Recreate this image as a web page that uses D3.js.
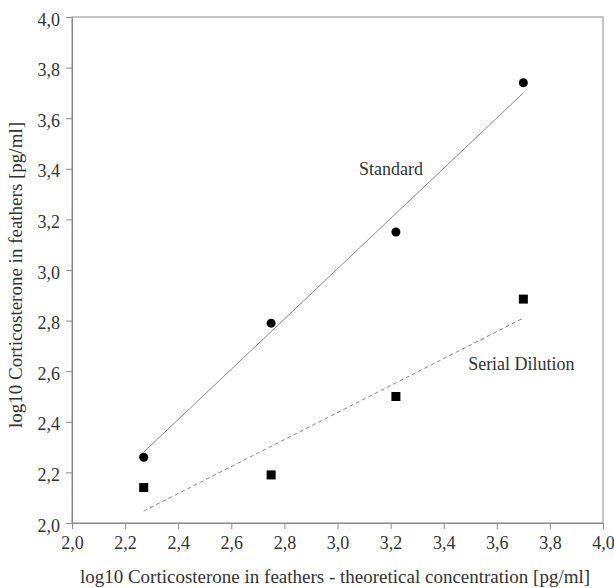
<!DOCTYPE html>
<html>
<head>
<meta charset="utf-8">
<script src="https://cdn.jsdelivr.net/npm/d3@7"></script>
<style>
  body { margin: 0; background: #fff; }
  svg text { font-family: "Liberation Serif", "Times New Roman", serif !important; fill: #333; }
</style>
</head>
<body>
<div id="chart"></div>
<script>
var w = 614;
var h = 588;
var margin = {top: 17, right: 11, bottom: 65, left: 72};

// data
var theoretical = [2.27, 2.75, 3.22, 3.70];
var standard = [2.26, 2.79, 3.15, 3.74];
var serial = [2.14, 2.19, 2.50, 2.885];
// fitted lines, end points
var standardFit = [[2.27, 2.28], [3.70, 3.70]];
var serialFit = [[2.27, 2.047], [3.70, 2.81]];
var ticks = [2.0, 2.2, 2.4, 2.6, 2.8, 3.0, 3.2, 3.4, 3.6, 3.8, 4.0];

var fmt = function(d){ return d3.format(".1f")(d).replace(".", ","); };

var svg = d3.select("#chart").append("svg")
	.attr("width", w)
	.attr("height", h);

var iw = w - margin.left - margin.right;
var ih = h - margin.top - margin.bottom;

var g = svg.append("g")
	.attr("transform", "translate(" + margin.left + "," + margin.top + ")");

var x = d3.scaleLinear().domain([2, 4]).range([0, iw]);
var y = d3.scaleLinear().domain([2, 4]).range([ih, 0]);

// frame
g.append("rect")
	.attr("width", iw).attr("height", ih)
	.attr("fill", "none").attr("stroke", "#8a8a8a");

var xAxis = g.append("g")
	.attr("transform", "translate(0," + ih + ")")
	.call(d3.axisBottom(x).tickValues(ticks).tickFormat(fmt).tickSize(6).tickPadding(7));
var yAxis = g.append("g")
	.call(d3.axisLeft(y).tickValues(ticks).tickFormat(fmt).tickSize(6).tickPadding(6));

[xAxis, yAxis].forEach(function(a){
	a.attr("font-family", "Liberation Serif").attr("font-size", 18);
	a.select(".domain").attr("stroke", "#8a8a8a");
	a.selectAll(".tick line").attr("stroke", "#8a8a8a");
	a.selectAll("text").attr("fill", "#333");
});
yAxis.selectAll(".tick text").attr("dy", "0.45em");

// fit lines
var line = d3.line().x(function(d){return x(d[0])}).y(function(d){return y(d[1])});
g.append("path").datum(standardFit)
	.attr("d", line).attr("fill", "none")
	.attr("stroke", "#8a8a8a").attr("stroke-width", 1);
g.append("path").datum(serialFit)
	.attr("d", line).attr("fill", "none")
	.attr("stroke", "#8a8a8a").attr("stroke-width", 1)
	.attr("stroke-dasharray", "4,3");

// markers
g.selectAll("circle.std")
	.data(theoretical.map(function(t, i){return {x: t, y: standard[i]}}))
	.enter().append("circle")
		.attr("class", "std")
		.attr("cx", function(d){return x(d.x)})
		.attr("cy", function(d){return y(d.y)})
		.attr("r", 4.5)
		.attr("fill", "#000");

var s = 9;
g.selectAll("rect.ser")
	.data(theoretical.map(function(t, i){return {x: t, y: serial[i]}}))
	.enter().append("rect")
		.attr("class", "ser")
		.attr("x", function(d){return x(d.x) - s/2})
		.attr("y", function(d){return y(d.y) - s/2})
		.attr("width", s).attr("height", s)
		.attr("fill", "#000");

// series labels
g.append("text")
	.attr("x", x(3.081)).attr("y", y(3.375))
	.style("font-size", "18px")
	.text("Standard");
g.append("text")
	.attr("x", x(3.492)).attr("y", y(2.605))
	.style("font-size", "18px")
	.text("Serial Dilution");

// axis titles
svg.append("text")
	.attr("x", 335).attr("y", 583)
	.attr("text-anchor", "middle")
	.style("font-size", "19px")
	.text("log10 Corticosterone in feathers - theoretical concentration [pg/ml]");
svg.append("text")
	.attr("transform", "translate(22," + 275 + ") rotate(-90)")
	.attr("text-anchor", "middle")
	.style("font-size", "19px")
	.text("log10 Corticosterone in feathers [pg/ml]");
</script>
</body>
</html>
